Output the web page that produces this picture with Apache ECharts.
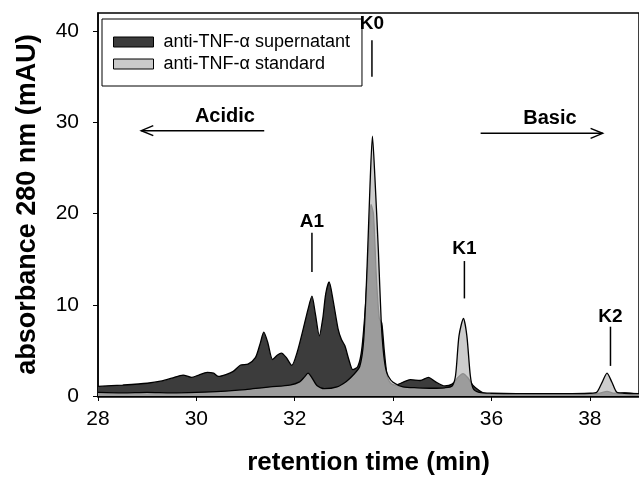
<!DOCTYPE html>
<html><head><meta charset="utf-8">
<script src="https://cdn.jsdelivr.net/npm/echarts@6/dist/echarts.min.js"></script>
<style>html,body{margin:0;padding:0;background:#fff}#c{width:639px;height:481px}</style>
</head><body><div id="c"></div>
<script>
// retention time (min) and absorbance (mAU)
const supTime = [28.0,28.5,29.0,29.3,29.5,29.73,29.9,30.05,30.22,30.35,30.45,30.6,30.75,30.9,31.05,31.2,31.3,31.37,31.45,31.55,31.65,31.73,31.83,31.94,32.05,32.17,32.27,32.35,32.42,32.5,32.57,32.63,32.7,32.78,32.88,32.95,33.02,33.1,33.18,33.28,33.36,33.44,33.5,33.55,33.6,33.66,33.72,33.77,33.82,33.88,33.95,34.05,34.2,34.35,34.55,34.72,34.85,35.05,35.2,35.33,35.42,35.52,35.62,35.75,35.85,36.2,36.6,37.0,37.5,38.0,38.2,38.35,38.5,38.7,39.0];
const supVal  = [1.05,1.2,1.4,1.65,1.95,2.3,2.05,2.3,2.6,2.5,2.15,2.35,2.7,3.4,3.5,4.2,5.8,7.0,5.9,4.0,4.5,4.7,4.2,3.35,4.8,7.3,9.5,10.95,9.0,6.6,8.5,11.2,12.5,10.5,7.4,6.2,5.5,4.0,2.9,3.2,5.0,10.0,16.0,21.0,20.0,13.0,8.5,8.0,5.0,2.2,1.4,1.2,1.5,1.8,1.7,2.05,1.6,1.1,1.3,2.1,2.45,2.0,1.2,0.6,0.3,0.2,0.25,0.2,0.2,0.2,0.3,0.5,0.3,0.35,0.2];
const stdTime = [28.0,28.5,29.0,29.5,30.0,30.5,31.0,31.15,31.5,31.9,32.1,32.2,32.27,32.35,32.45,32.6,32.86,33.05,33.18,33.32,33.4,33.47,33.53,33.58,33.63,33.7,33.76,33.8,33.85,33.9,34.0,34.2,34.5,34.8,35.05,35.2,35.27,35.34,35.43,35.5,35.57,35.63,35.75,36.0,36.5,37.0,37.5,38.0,38.14,38.25,38.35,38.45,38.55,38.7,39.0];
const stdVal  = [0.4,0.35,0.4,0.35,0.4,0.5,0.7,0.8,1.0,1.2,1.55,2.1,2.5,2.0,1.15,0.8,1.0,1.6,2.25,3.2,6.0,14.0,23.0,28.5,24.0,16.0,8.0,5.0,3.0,2.2,1.5,1.0,0.9,0.85,0.9,1.1,2.25,6.6,8.5,6.6,2.25,0.8,0.4,0.3,0.25,0.25,0.25,0.3,0.4,1.5,2.5,1.5,0.4,0.3,0.25];
const seriesNames = ['anti-TNF-\u03b1 supernatant','anti-TNF-\u03b1 standard'];
const xTickLabels = ['28','30','32','34','36','38'];
const yTickLabels = ['0','10','20','30','40'];
// peak annotations: [label, x (min), label y, line top, line bottom] in data units
const peakLabels = [
  ['K0', 33.57, 40.8, 39.0, 35.0],
  ['A1', 32.35, 19.1, 17.9, 13.6],
  ['K1', 35.45, 16.2, 14.8, 10.7],
  ['K2', 38.42, 8.7, 7.6, 3.3]
];
// direction arrows: [label, label x, label y, arrow from x, arrow to x, arrow y]
const directions = [
  ['Acidic', 30.58, 30.6, 31.38, 28.88, 29.1],
  ['Basic', 37.19, 30.4, 35.78, 38.26, 28.8]
];

const FONT = "'Liberation Sans', Arial, sans-serif";
const chart = echarts.init(document.getElementById('c'), null, {renderer:'canvas'});
const pair = (t, v) => t.map((x, i) => [x, v[i]]);

chart.setOption({
  animation: false,
  backgroundColor: '#fff',
  grid: {left: 98, right: 0, top: 13, bottom: 84, show: true, borderColor: '#000', borderWidth: 1.5, backgroundColor: 'transparent'},
  legend: {
    left: 102, top: 19, orient: 'vertical', icon: 'rect',
    itemWidth: 40, itemHeight: 10, itemGap: 4,
    padding: [14, 12, 13, 11],
    borderColor: '#000', borderWidth: 1, backgroundColor: '#fff',
    textStyle: {fontFamily: FONT, fontSize: 18, color: '#000', padding: [0, 0, 0, 5]},
    data: [
      {name: seriesNames[0], itemStyle: {color: '#3c3c3c', borderColor: '#000', borderWidth: 1}},
      {name: seriesNames[1], itemStyle: {color: '#cacaca', borderColor: '#000', borderWidth: 1}}
    ]
  },
  xAxis: {
    type: 'value', min: 28, max: 39, interval: 2,
    name: 'retention time (min)', nameLocation: 'middle', nameGap: 54,
    nameTextStyle: {fontFamily: FONT, fontSize: 26, fontWeight: 'bold', color: '#000'},
    axisLine: {lineStyle: {color: '#000', width: 2.5}},
    axisTick: {show: true, length: 5, lineStyle: {color: '#000', width: 1}},
    axisLabel: {margin: 13, fontFamily: FONT, fontSize: 21, color: '#000',
      showMaxLabel: false,
      formatter: v => xTickLabels.includes(String(v)) ? String(v) : ''},
    splitLine: {show: false}
  },
  yAxis: {
    type: 'value', min: 0, max: 42, interval: 10,
    name: 'absorbance 280 nm (mAU)', nameLocation: 'middle', nameGap: 57,
    nameTextStyle: {fontFamily: FONT, fontSize: 27, fontWeight: 'bold', color: '#000'},
    axisLine: {show: true, lineStyle: {color: '#000', width: 1.5}},
    axisTick: {show: true, length: 5, lineStyle: {color: '#000', width: 1}},
    axisLabel: {margin: 19, fontFamily: FONT, fontSize: 21, color: '#000',
      showMaxLabel: false,
      formatter: v => yTickLabels.includes(String(v)) ? String(v) : ''},
    splitLine: {show: false}
  },
  series: [
    {name: seriesNames[0], type: 'line', data: pair(supTime, supVal), smooth: 0.25,
     showSymbol: false, z: 2,
     lineStyle: {color: '#000', width: 1.3},
     itemStyle: {color: '#3c3c3c'},
     areaStyle: {color: '#3c3c3c', opacity: 1}},
    {name: seriesNames[1], type: 'line', data: pair(stdTime, stdVal), smooth: 0.25,
     showSymbol: false, z: 3,
     lineStyle: {color: '#000', width: 1.3},
     itemStyle: {color: '#cacaca'},
     areaStyle: {color: '#bcbcbc', opacity: 0.75}}
  ]
});

const P = (x, y) => chart.convertToPixel({gridIndex: 0}, [x, y]);
const g = [];
peakLabels.forEach(([lab, x, ty, y1, y2]) => {
  const t = P(x, ty), a = P(x, y1), b = P(x, y2);
  g.push({type: 'text', x: t[0], y: t[1], z: 10,
    style: {text: lab, fontFamily: FONT, fontSize: 19, fontWeight: 'bold', fill: '#000', align: 'center', verticalAlign: 'middle'}});
  g.push({type: 'line', z: 10, shape: {x1: a[0], y1: a[1], x2: b[0], y2: b[1]}, style: {stroke: '#000', lineWidth: 1.5}});
});
directions.forEach(([lab, tx, ty, x1, x2, ay]) => {
  const t = P(tx, ty), a = P(x1, ay), b = P(x2, ay);
  g.push({type: 'text', x: t[0], y: t[1], z: 10,
    style: {text: lab, fontFamily: FONT, fontSize: 20, fontWeight: 'bold', fill: '#000', align: 'center', verticalAlign: 'middle'}});
  g.push({type: 'line', z: 10, shape: {x1: a[0], y1: a[1], x2: b[0], y2: b[1]}, style: {stroke: '#000', lineWidth: 1.5}});
  const d = b[0] > a[0] ? -1 : 1;
  g.push({type: 'polyline', z: 10, shape: {points: [[b[0] + d * 12, b[1] - 5], [b[0], b[1]], [b[0] + d * 12, b[1] + 5]]},
    style: {stroke: '#000', lineWidth: 1.5, fill: null}});
});
chart.setOption({graphic: g});
</script></body></html>
